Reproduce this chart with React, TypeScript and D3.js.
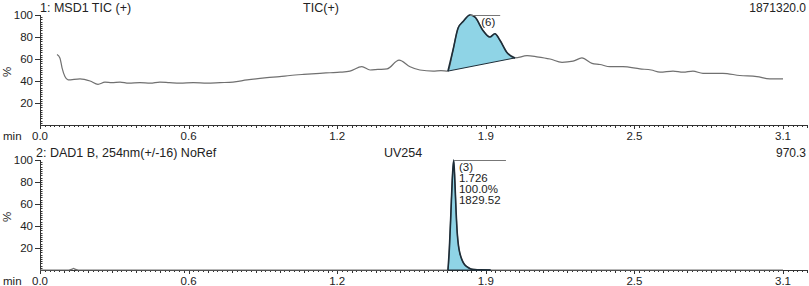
import { useEffect, useRef } from "react";
import * as d3 from "d3";

// TIC trace (MSD1, +) : retention time (min) / relative abundance (%)
const ticTime = [
  0.071, 0.083, 0.092, 0.104, 0.117, 0.167, 0.209, 0.242, 0.271, 0.3, 0.334, 0.37, 0.417, 0.46, 0.5, 0.54,
  0.584, 0.64, 0.697, 0.751, 0.805, 0.864, 0.947, 1.0, 1.043, 1.1, 1.168, 1.21, 1.252, 1.293, 1.343, 1.377,
  1.41, 1.448, 1.498, 1.544, 1.585, 1.64, 1.673, 1.702, 1.723, 1.744, 1.765, 1.794, 1.815, 1.848, 1.877,
  1.898, 1.919, 1.948, 1.982, 2.032, 2.073, 2.128, 2.178, 2.224, 2.261, 2.303, 2.336, 2.378, 2.432, 2.503,
  2.55, 2.587, 2.641, 2.683, 2.724, 2.766, 2.849, 2.92, 2.991, 3.045, 3.1,
];
const ticValue = [
  64, 61, 52, 44, 41, 42, 40, 37, 39, 38.5, 39, 38, 38.5, 38, 39, 38.5,
  38, 38.5, 38, 38.5, 39, 41, 43, 44, 45, 46, 47, 47.5, 48, 49, 53, 50,
  50.5, 51, 59, 53, 50, 49, 49.5, 49, 68, 88, 94, 100, 98, 86, 80,
  83, 77, 66, 61, 63, 62, 60, 57, 58, 61, 56, 55, 53, 53, 51,
  50, 48, 49, 48, 49, 47, 47, 45, 44, 42, 42,
];
// integrated TIC peak (6): start / end of the drawn baseline
const ticPeakStart = 1.702;
const ticPeakEnd = 1.982;
const ticPeakApex = 1.794;

// DAD1 B, 254nm trace
const uvTime = [
  0.0, 0.12, 0.135, 0.14, 0.145, 0.16, 1.6, 1.702, 1.708, 1.714, 1.72, 1.726, 1.731, 1.736, 1.741, 1.746,
  1.752, 1.761, 1.771, 1.781, 1.795, 1.81, 1.84, 1.88, 3.1,
];
const uvValue = [
  0, 0, 0.8, 1.5, 0.8, 0, 0, 0, 20, 50, 82, 100, 80, 53, 33, 22,
  15, 9, 5, 3, 1.2, 0.5, 0.1, 0, 0,
];
const uvPeakStart = 1.702;
const uvPeakEnd = 1.88;
const uvPeakApex = 1.726;
const uvPeakLabels = ["(3)", "1.726", "100.0%", "1829.52"];

const xTicks = [0, 0.62, 1.24, 1.86, 2.48, 3.1];
const yTicks = [20, 40, 60, 80, 100];

const W = 809;
const H = 286;
const FONT = "'Liberation Sans', Arial, sans-serif";

const App = () => {
  const svgRef = useRef<SVGSVGElement>(null);

  useEffect(() => {
    const svg = d3.select(svgRef.current);
    svg.selectAll("*").remove();

    const x = d3.scaleLinear().domain([0, 3.2]).range([40, 807]);
    const fmt = d3.format(".1f");

    const panels = [
      {
        top: 15, bottom: 125, title: "1: MSD1 TIC (+)", titleX: 40, mid: "TIC(+)", midX: 321,
        right: "1871320.0", time: ticTime, value: ticValue,
        peakStart: ticPeakStart, peakEnd: ticPeakEnd, apex: ticPeakApex, lineEnd: 1.92,
        labels: ["(6)"], labelX: 1.87, labelCenter: true,
      },
      {
        top: 160, bottom: 270, title: "2: DAD1 B, 254nm(+/-16) NoRef", titleX: 36, mid: "UV254", midX: 403,
        right: "970.3", time: uvTime, value: uvValue,
        peakStart: uvPeakStart, peakEnd: uvPeakEnd, apex: uvPeakApex, lineEnd: 1.944,
        labels: uvPeakLabels, labelX: 1.748, labelCenter: false,
      },
    ];

    panels.forEach((p) => {
      const y = d3.scaleLinear().domain([0, 100]).range([p.bottom, p.top]);
      const g = svg.append("g").style("font-family", FONT).style("fill", "#222");

      // titles
      g.append("text").attr("x", p.titleX).attr("y", p.top - 3.5).attr("font-size", 12.5).text(p.title);
      g.append("text").attr("x", p.midX).attr("y", p.top - 3.5).attr("font-size", 12.5)
        .attr("text-anchor", "middle").text(p.mid);
      g.append("text").attr("x", 806).attr("y", p.top - 3.5).attr("font-size", 12)
        .attr("text-anchor", "end").text(p.right);

      // y axis
      const yAxis = g.append("g").attr("stroke", "#333").attr("stroke-width", 1);
      yAxis.append("line").attr("x1", 40.5).attr("x2", 40.5).attr("y1", p.top).attr("y2", p.bottom + 1);
      d3.range(2, 100, 2).forEach((v) => {
        yAxis.append("line").attr("x1", 40.5).attr("x2", 42.5)
          .attr("y1", Math.round(y(v)) + 0.5).attr("y2", Math.round(y(v)) + 0.5);
      });
      yTicks.forEach((v) => {
        yAxis.append("line").attr("x1", 35).attr("x2", 40.5)
          .attr("y1", Math.round(y(v)) + 0.5).attr("y2", Math.round(y(v)) + 0.5);
        g.append("text").attr("x", 33).attr("y", y(v) + 4).attr("font-size", 11.5)
          .attr("text-anchor", "end").text(String(v));
      });
      g.append("text").attr("transform", `translate(11,${(p.top + p.bottom) / 2 + 2}) rotate(-90)`)
        .attr("font-size", 11.5).attr("text-anchor", "middle").text("%");

      // x axis
      const xAxis = g.append("g").attr("stroke", "#333").attr("stroke-width", 1);
      xAxis.append("line").attr("x1", 40).attr("x2", 807)
        .attr("y1", p.bottom + 0.5).attr("y2", p.bottom + 0.5);
      d3.range(0, 3.2001, 0.02).forEach((t, i) => {
        const len = i % 5 === 0 ? 3 : 2;
        xAxis.append("line").attr("x1", Math.round(x(t)) + 0.5).attr("x2", Math.round(x(t)) + 0.5)
          .attr("y1", p.bottom).attr("y2", p.bottom + len);
      });
      xTicks.forEach((t) => {
        xAxis.append("line").attr("x1", Math.round(x(t)) + 0.5).attr("x2", Math.round(x(t)) + 0.5)
          .attr("y1", p.bottom).attr("y2", p.bottom + 4);
        g.append("text").attr("x", x(t)).attr("y", p.bottom + 15).attr("font-size", 11.5)
          .attr("text-anchor", "middle").text(fmt(t));
      });
      g.append("text").attr("x", 3).attr("y", p.bottom + 15).attr("font-size", 11.5).text("min");

      const pts = p.time.map((t, i) => [t, p.value[i]] as [number, number]);
      const peakPts = pts.filter((d) => d[0] >= p.peakStart && d[0] <= p.peakEnd);
      const vStart = peakPts[0][1];
      const vEnd = peakPts[peakPts.length - 1][1];
      const base = d3.scaleLinear().domain([p.peakStart, p.peakEnd]).range([vStart, vEnd]);

      // peak fill
      g.append("path").datum(peakPts)
        .attr("d", d3.area<[number, number]>().x((d) => x(d[0])).y0((d) => y(base(d[0]))).y1((d) => y(d[1]))
          .curve(d3.curveMonotoneX))
        .attr("fill", "#8fd4e6").attr("stroke", "none");

      // full trace
      g.append("path").datum(pts)
        .attr("d", d3.line<[number, number]>().x((d) => x(d[0])).y((d) => y(d[1])).curve(d3.curveMonotoneX))
        .attr("fill", "none").attr("stroke", "#707070").attr("stroke-width", 1.2);

      // peak outline + baseline
      g.append("path").datum(peakPts)
        .attr("d", d3.line<[number, number]>().x((d) => x(d[0])).y((d) => y(d[1])).curve(d3.curveMonotoneX))
        .attr("fill", "none").attr("stroke", "#1d2d38").attr("stroke-width", 1.6);
      g.append("line")
        .attr("x1", x(p.peakStart)).attr("y1", y(vStart)).attr("x2", x(p.peakEnd)).attr("y2", y(vEnd))
        .attr("stroke", "#1d2d38").attr("stroke-width", 1);

      // apex marker line and labels
      g.append("line").attr("x1", x(p.apex)).attr("x2", x(p.lineEnd))
        .attr("y1", y(100) + 0.5).attr("y2", y(100) + 0.5).attr("stroke", "#777").attr("stroke-width", 1);
      p.labels.forEach((s, i) => {
        g.append("text").attr("x", x(p.labelX)).attr("y", y(100) + 11 + i * 11)
          .attr("font-size", 11.5).attr("text-anchor", p.labelCenter ? "middle" : "start").text(s);
      });
    });
  }, []);

  return (
    <div style={{ position: "absolute", left: 0, top: 0, width: W, height: H, background: "#fff" }}>
      <svg ref={svgRef} width={W} height={H}></svg>
    </div>
  );
};

export default App;
